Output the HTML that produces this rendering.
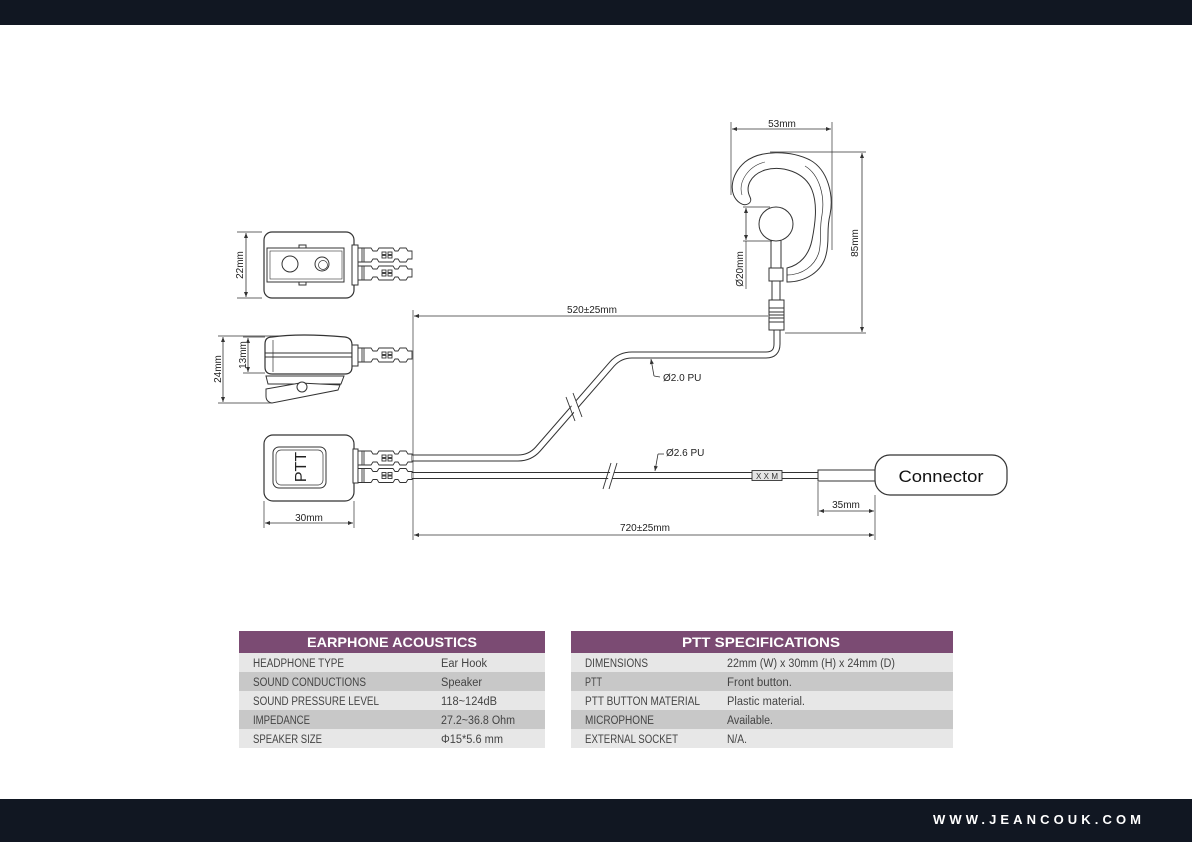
<!DOCTYPE html>
<html><head><meta charset="utf-8"><style>
html,body{margin:0;padding:0;background:#fff;}
svg{display:block;}
text{font-family:"Liberation Sans",Arial,sans-serif;}
</style></head><body>
<svg width="1192" height="842" viewBox="0 0 1192 842" xmlns="http://www.w3.org/2000/svg">
<defs>
<marker id="ar" viewBox="0 0 10 10" refX="10" refY="5" markerWidth="7" markerHeight="5" orient="auto-start-reverse" markerUnits="userSpaceOnUse">
<path d="M0,1 L10,5 L0,9 Z" fill="#333"/>
</marker>
<g id="sr" fill="#fff" stroke="#333" stroke-width="0.9">
<path d="M0,-7 L13,-7 L15,-4 L19,-4 L21,-7 L35,-7 L37,-4 L40,-4 L42,-7 L48,-7 L50,-4 L54,-4 L54,4 L50,4 L48,7 L42,7 L40,4 L37,4 L35,7 L21,7 L19,4 L15,4 L13,7 L0,7 Z"/>
<rect x="4" y="-7" width="2" height="14"/>
<rect x="24" y="-3" width="4" height="2.5"/><rect x="24" y="0.5" width="4" height="2.5"/>
<rect x="30" y="-3" width="4" height="2.5"/><rect x="30" y="0.5" width="4" height="2.5"/>
</g>
</defs>

<!-- bars -->
<rect x="0" y="0" width="1192" height="25" fill="#111722"/>
<rect x="0" y="799" width="1192" height="43" fill="#111722"/>
<text x="933" y="824" fill="#fff" font-size="13" font-weight="bold" textLength="208" lengthAdjust="spacing">WWW.JEANCOUK.COM</text>

<g stroke="#333" fill="none" stroke-width="1">
<!-- ===== Top PTT view ===== -->
<rect x="264" y="232" width="90" height="66" rx="8" stroke-width="1.2"/>
<rect x="267" y="248" width="77" height="34"/>
<rect x="270" y="251" width="72" height="28" stroke-width="0.6"/>
<circle cx="290" cy="264" r="8"/>
<circle cx="322" cy="264" r="7"/>
<circle cx="323" cy="265" r="4.5" stroke-width="0.7"/>
<rect x="299" y="245" width="7" height="3" fill="#fff"/>
<rect x="299" y="282" width="7" height="3" fill="#fff"/>
<rect x="352" y="245" width="6" height="40" fill="#fff"/>
</g>
<use href="#sr" x="358" y="255"/>
<use href="#sr" x="358" y="273"/>

<g stroke="#333" fill="none" stroke-width="1">
<!-- 22mm dim -->
<line x1="237" y1="232" x2="262" y2="232" stroke-width="0.7"/>
<line x1="237" y1="298" x2="262" y2="298" stroke-width="0.7"/>
<line x1="246" y1="233" x2="246" y2="297" stroke-width="0.8" marker-start="url(#ar)" marker-end="url(#ar)"/>

<!-- ===== Side view ===== -->
<path d="M272,337 Q300,333 345,337 Q352,338 352,345 L352,367 Q352,374 345,374 L272,374 Q265,374 265,367 L265,344 Q265,337 272,337 Z" fill="#fff" stroke-width="1.2"/>
<line x1="265" y1="353" x2="352" y2="353"/>
<line x1="265" y1="357" x2="352" y2="357"/>
<line x1="273" y1="340" x2="273" y2="372" stroke-width="0.7"/>
<path d="M266,376 L344,376 L341,384 L268,384 Z" fill="#fff"/>
<path d="M266,389 L300,383 L340,385 L338,390 L272,403 Q266,402 266,396 Z" fill="#fff"/>
<circle cx="302" cy="387" r="5" fill="#fff"/>
<rect x="352" y="345" width="6" height="21" fill="#fff"/>
</g>
<use href="#sr" x="358" y="355"/>

<g stroke="#333" fill="none" stroke-width="0.8">
<!-- 13mm / 24mm dims -->
<line x1="243" y1="337" x2="265" y2="337" stroke-width="0.7"/>
<line x1="243" y1="373" x2="265" y2="373" stroke-width="0.7"/>
<line x1="248" y1="338" x2="248" y2="372" marker-start="url(#ar)" marker-end="url(#ar)"/>
<line x1="218" y1="336" x2="280" y2="336" stroke-width="0.7"/>
<line x1="218" y1="403" x2="272" y2="403" stroke-width="0.7"/>
<line x1="223" y1="337" x2="223" y2="402" marker-start="url(#ar)" marker-end="url(#ar)"/>
</g>

<!-- ===== Bottom PTT ===== -->
<g stroke="#333" fill="none" stroke-width="1">
<rect x="264" y="435" width="90" height="66" rx="9" stroke-width="1.2" fill="#fff"/>
<rect x="273" y="447" width="53" height="41" rx="6"/>
<rect x="276" y="450" width="47" height="35" rx="5" stroke-width="0.7"/>
<rect x="353" y="449" width="5" height="34" fill="#fff"/>
</g>
<use href="#sr" x="358" y="458"/>
<use href="#sr" x="358" y="475.5"/>
<text transform="translate(306,467) rotate(-90)" text-anchor="middle" font-size="16" fill="#222">PTT</text>

<!-- cables -->
<g fill="none">
<path d="M412,458 L518,458 Q530,458 538,449 L612,364 Q620,355 632,355 L766,355 Q777,355 777,344 L777,330" stroke="#333" stroke-width="7"/>
<path d="M412,458 L518,458 Q530,458 538,449 L612,364 Q620,355 632,355 L766,355 Q777,355 777,344 L777,330" stroke="#fff" stroke-width="5"/>
<path d="M412,475.5 L752,475.5 M782,475.5 L818,475.5" stroke="#333" stroke-width="7"/>
<path d="M412,475.5 L752,475.5 M782,475.5 L818,475.5" stroke="#fff" stroke-width="5"/>
</g>
<!-- break marks -->
<polygon points="568,397 577,420 582,417 573,394" fill="#fff"/>
<g stroke="#333" stroke-width="0.9">
<line x1="566" y1="397" x2="575" y2="421"/>
<line x1="573" y1="393" x2="582" y2="417"/>
</g>
<polygon points="605,489 613,463 617,463 609,489" fill="#fff"/>
<g stroke="#333" stroke-width="0.9">
<line x1="603" y1="489" x2="611" y2="463"/>
<line x1="609" y1="489" x2="617" y2="463"/>
</g>

<!-- MXX label, sleeve, connector -->
<rect x="752" y="470.5" width="30" height="10" fill="#e4e4e4" stroke="#333" stroke-width="0.9"/>
<text x="767" y="479" text-anchor="middle" font-size="8" fill="#333" textLength="22" lengthAdjust="spacing">XXM</text>
<rect x="818" y="470" width="57" height="11" fill="#fff" stroke="#333" stroke-width="1"/>
<rect x="875" y="455" width="132" height="40" rx="15" fill="#fff" stroke="#333" stroke-width="1.2"/>
<text x="941" y="482" text-anchor="middle" font-size="17" fill="#111" textLength="85" lengthAdjust="spacingAndGlyphs">Connector</text>

<!-- ===== Earhook ===== -->
<g stroke="#333" fill="#fff" stroke-width="1">
<path d="M787,282 C805,282 822,272 826,255 C830,240 826,230 830,215 C834,195 828,170 810,160 C790,150 760,150 745,162 C730,175 728,195 740,203 C746,207 753,203 750,197 C745,187 750,175 765,170 C782,165 805,172 812,190 C818,205 815,225 812,240 C809,255 800,265 787,268 Z"/>
<path d="M787,275 C802,275 815,266 819,252 C822,240 819,230 822,215 C825,197 820,175 805,166" fill="none" stroke-width="0.7"/>
<path d="M742,195 C738,182 748,166 765,162" fill="none" stroke-width="0.6"/>
<rect x="771" y="238" width="10" height="30"/>
<circle cx="776" cy="224" r="17"/>
<rect x="769" y="268" width="14" height="13"/>
<rect x="772" y="281" width="8" height="20"/>
<rect x="769" y="300" width="15" height="30"/>
<line x1="769" y1="308" x2="784" y2="308"/>
<line x1="769" y1="312" x2="784" y2="312"/>
<line x1="769" y1="315" x2="784" y2="315"/>
<line x1="769" y1="318" x2="784" y2="318"/>
<line x1="769" y1="322" x2="784" y2="322"/>
</g>

<!-- dimension lines -->
<g stroke="#333" fill="none" stroke-width="0.8">
<line x1="413" y1="310" x2="413" y2="540" stroke-width="0.7"/>
<line x1="414" y1="316" x2="768" y2="316" marker-start="url(#ar)"/>
<line x1="731" y1="122" x2="731" y2="195" stroke-width="0.7"/>
<line x1="832" y1="122" x2="832" y2="250" stroke-width="0.7"/>
<line x1="732" y1="129" x2="831" y2="129" marker-start="url(#ar)" marker-end="url(#ar)"/>
<line x1="770" y1="152" x2="866" y2="152" stroke-width="0.7"/>
<line x1="785" y1="333" x2="866" y2="333" stroke-width="0.7"/>
<line x1="862" y1="153" x2="862" y2="332" marker-start="url(#ar)" marker-end="url(#ar)"/>
<line x1="743" y1="207" x2="770" y2="207" stroke-width="0.7"/>
<line x1="743" y1="241" x2="772" y2="241" stroke-width="0.7"/>
<line x1="746" y1="208" x2="746" y2="240" marker-start="url(#ar)" marker-end="url(#ar)"/>
<line x1="746" y1="241" x2="746" y2="289" stroke-width="0.7"/>
<line x1="264" y1="501" x2="264" y2="528" stroke-width="0.7"/>
<line x1="354" y1="501" x2="354" y2="528" stroke-width="0.7"/>
<line x1="265" y1="523" x2="353" y2="523" marker-start="url(#ar)" marker-end="url(#ar)"/>
<line x1="818" y1="482" x2="818" y2="516" stroke-width="0.7"/>
<line x1="875" y1="495" x2="875" y2="540" stroke-width="0.7"/>
<line x1="819" y1="511" x2="874" y2="511" marker-start="url(#ar)" marker-end="url(#ar)"/>
<line x1="414" y1="535" x2="874" y2="535" marker-start="url(#ar)" marker-end="url(#ar)"/>
<path d="M654,376 L660,377"/>
<line x1="654" y1="376" x2="651" y2="359" marker-end="url(#ar)"/>
<path d="M658,454 L664,454"/>
<line x1="658" y1="454" x2="655" y2="471" marker-end="url(#ar)"/>
</g>

<!-- dimension texts -->
<g font-size="10" fill="#222">
<text x="592" y="313" text-anchor="middle">520±25mm</text>
<text x="782" y="127" text-anchor="middle">53mm</text>
<text transform="translate(858,243) rotate(-90)" text-anchor="middle">85mm</text>
<text transform="translate(743,269) rotate(-90)" text-anchor="middle">Ø20mm</text>
<text transform="translate(243,265) rotate(-90)" text-anchor="middle">22mm</text>
<text transform="translate(246,355) rotate(-90)" text-anchor="middle">13mm</text>
<text transform="translate(221,369) rotate(-90)" text-anchor="middle">24mm</text>
<text x="309" y="521" text-anchor="middle">30mm</text>
<text x="846" y="508" text-anchor="middle">35mm</text>
<text x="645" y="531" text-anchor="middle">720±25mm</text>
<text x="663" y="381">Ø2.0 PU</text>
<text x="666" y="456">Ø2.6 PU</text>
</g>

<!-- ===== Tables ===== -->
<g>
<rect x="239" y="631" width="306" height="22" fill="#7b4b73"/>
<rect x="239" y="653" width="306" height="19" fill="#e7e7e7"/>
<rect x="239" y="672" width="306" height="19" fill="#c8c8c8"/>
<rect x="239" y="691" width="306" height="19" fill="#e7e7e7"/>
<rect x="239" y="710" width="306" height="19" fill="#c8c8c8"/>
<rect x="239" y="729" width="306" height="19" fill="#e7e7e7"/>
<rect x="571" y="631" width="382" height="22" fill="#7b4b73"/>
<rect x="571" y="653" width="382" height="19" fill="#e7e7e7"/>
<rect x="571" y="672" width="382" height="19" fill="#c8c8c8"/>
<rect x="571" y="691" width="382" height="19" fill="#e7e7e7"/>
<rect x="571" y="710" width="382" height="19" fill="#c8c8c8"/>
<rect x="571" y="729" width="382" height="19" fill="#e7e7e7"/>
</g>
<g fill="#fff" font-size="14" font-weight="bold">
<text x="307" y="647" textLength="170" lengthAdjust="spacingAndGlyphs">EARPHONE ACOUSTICS</text>
<text x="682" y="647" textLength="158" lengthAdjust="spacingAndGlyphs">PTT SPECIFICATIONS</text>
</g>
<g fill="#444" font-size="11.5">
<text x="253" y="667" textLength="91" lengthAdjust="spacingAndGlyphs">HEADPHONE TYPE</text>
<text x="253" y="686" textLength="113" lengthAdjust="spacingAndGlyphs">SOUND CONDUCTIONS</text>
<text x="253" y="705" textLength="126" lengthAdjust="spacingAndGlyphs">SOUND PRESSURE LEVEL</text>
<text x="253" y="724" textLength="57" lengthAdjust="spacingAndGlyphs">IMPEDANCE</text>
<text x="253" y="743" textLength="69" lengthAdjust="spacingAndGlyphs">SPEAKER SIZE</text>
<text x="441" y="667" textLength="46" lengthAdjust="spacingAndGlyphs">Ear Hook</text>
<text x="441" y="686" textLength="41" lengthAdjust="spacingAndGlyphs">Speaker</text>
<text x="441" y="705" textLength="56" lengthAdjust="spacingAndGlyphs">118~124dB</text>
<text x="441" y="724" textLength="74" lengthAdjust="spacingAndGlyphs">27.2~36.8 Ohm</text>
<text x="441" y="743" textLength="62" lengthAdjust="spacingAndGlyphs">Φ15*5.6 mm</text>
<text x="585" y="667" textLength="63" lengthAdjust="spacingAndGlyphs">DIMENSIONS</text>
<text x="585" y="686" textLength="17" lengthAdjust="spacingAndGlyphs">PTT</text>
<text x="585" y="705" textLength="115" lengthAdjust="spacingAndGlyphs">PTT BUTTON MATERIAL</text>
<text x="585" y="724" textLength="69" lengthAdjust="spacingAndGlyphs">MICROPHONE</text>
<text x="585" y="743" textLength="93" lengthAdjust="spacingAndGlyphs">EXTERNAL SOCKET</text>
<text x="727" y="667" textLength="168" lengthAdjust="spacingAndGlyphs">22mm (W) x 30mm (H) x 24mm (D)</text>
<text x="727" y="686" textLength="65" lengthAdjust="spacingAndGlyphs">Front button.</text>
<text x="727" y="705" textLength="78" lengthAdjust="spacingAndGlyphs">Plastic material.</text>
<text x="727" y="724" textLength="46" lengthAdjust="spacingAndGlyphs">Available.</text>
<text x="727" y="743" textLength="20" lengthAdjust="spacingAndGlyphs">N/A.</text>
</g>
</svg>
</body></html>
